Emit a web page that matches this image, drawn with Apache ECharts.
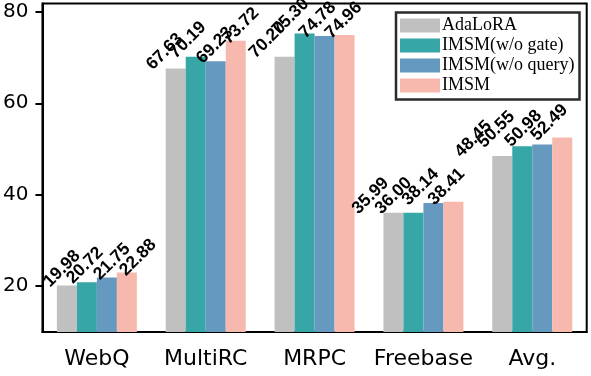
<!DOCTYPE html>
<html>
<head>
<meta charset="utf-8">
<script src="https://cdn.jsdelivr.net/npm/echarts@6/dist/echarts.min.js"></script>
<style>html,body{margin:0;padding:0;background:#fff}#c{width:591px;height:376px}</style>
</head>
<body>
<div id="c"></div>
<script>
const categories = ['WebQ', 'MultiRC', 'MRPC', 'Freebase', 'Avg.'];
const seriesNames = ['AdaLoRA', 'IMSM(w/o gate)', 'IMSM(w/o query)', 'IMSM'];
const adaLoRA = [19.98, 67.63, 70.20, 35.99, 48.45];
const imsmNoGate = [20.72, 70.19, 75.30, 36.00, 50.55];
const imsmNoQuery = [21.75, 69.23, 74.78, 38.14, 50.98];
const imsm = [22.88, 73.72, 74.96, 38.41, 52.49];
const yTicks = [20, 40, 60, 80];

const colors = ['#c0c0c0', '#36a6a6', '#6699bf', '#f7b9ad'];
const labelDx = [-14, -11, -4, 2];
const labelDrift = -6;
const labelDy = [5, 5, 6, 7];
const values = [adaLoRA, imsmNoGate, imsmNoQuery, imsm];

const chart = echarts.init(document.getElementById('c'), null, {renderer: 'canvas'});
const sansFont = 'DejaVu Sans';
chart.setOption({
  animation: false,
  grid: {left: 42, right: 4.3, top: 3.5, bottom: 44, show: true, borderColor: '#000', borderWidth: 2, backgroundColor: 'transparent'},
  legend: {
    left: 396, top: 12.5, orient: 'vertical',
    icon: 'rect', itemWidth: 40, itemHeight: 14, itemGap: 2,
    padding: [4, 5, 5, 4],
    borderColor: '#2b2b2b', borderWidth: 2.5, borderRadius: 0,
    backgroundColor: '#fff',
    textStyle: {fontFamily: 'Liberation Serif', fontSize: 18, color: '#000', lineHeight: 17, padding: [0, 0, 0, -3]},
    data: seriesNames
  },
  xAxis: {
    type: 'category', data: categories,
    axisLine: {lineStyle: {color: '#000', width: 2}},
    axisTick: {alignWithLabel: true, length: 6, lineStyle: {color: '#000', width: 2}},
    axisLabel: {fontFamily: sansFont, fontSize: 22, color: '#000', margin: 16, interval: 0, hideOverlap: false}
  },
  yAxis: {
    type: 'value', min: 9.8, max: 81.9,
    splitLine: {show: false},
    axisLine: {show: true, lineStyle: {color: '#000', width: 2}},
    axisTick: {show: true, length: 7, lineStyle: {color: '#000', width: 2}, customValues: yTicks},
    axisLabel: {fontFamily: sansFont, fontSize: 20, color: '#000', margin: 14, customValues: yTicks}
  },
  series: seriesNames.map((name, i) => ({
    name: name, type: 'bar', data: values[i],
    barWidth: 20, barGap: '0%',
    itemStyle: {color: colors[i]},
    label: {
      show: true, position: 'top', distance: 0,
      formatter: p => p.value.toFixed(2),
      fontFamily: 'Liberation Sans', fontSize: 17.5, fontWeight: 'bold', color: '#000'
    },
    labelLayout: function (params) {
      const r = params.rect;
      return {
        x: r.x + r.width / 2 + labelDx[i] + labelDrift * params.dataIndex,
        y: r.y + labelDy[i],
        rotate: 45, align: 'left', verticalAlign: 'bottom'
      };
    }
  }))
});
</script>
</body>
</html>
